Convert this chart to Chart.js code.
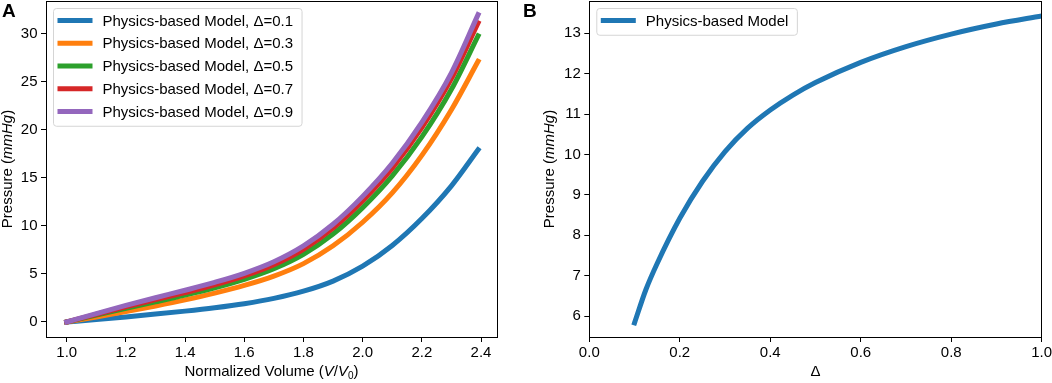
<!DOCTYPE html>
<html>
<head>
<meta charset="utf-8">
<script src="https://cdn.jsdelivr.net/npm/chart.js@4.4.1/dist/chart.umd.min.js"></script>
<style>
    html, body { margin: 0; padding: 0; background: #fff; }
    #wrap { position: relative; width: 1052px; height: 383px; overflow: hidden; }
    canvas { position: absolute; top: 0; }
    #chartA { left: 0; }
    #chartB { left: 520px; }
    .panel-tag { position: absolute; font: bold 19px "Liberation Sans", Arial, sans-serif; color: #000; line-height: 1; }
</style>
</head>
<body>
<div id="wrap">
    <canvas id="chartA" width="520" height="383"></canvas>
    <canvas id="chartB" width="532" height="383"></canvas>
    <div class="panel-tag" style="left:2px;top:1px">A</div>
    <div class="panel-tag" style="left:523px;top:1px">B</div>
</div>
<script>
// Panel A: pressure vs normalized volume, one curve per Δ
const volume   = [1.0, 1.1, 1.2, 1.3, 1.4, 1.5, 1.6, 1.7, 1.8, 1.9, 2.0, 2.1, 2.2, 2.3, 2.39];
const pressD01 = [0, 0.26, 0.53, 0.82, 1.13, 1.48, 1.9, 2.45, 3.2, 4.25, 5.8, 7.95, 10.75, 14.15, 17.9];
const pressD03 = [0, 0.52, 1.08, 1.67, 2.3, 3.0, 3.8, 4.77, 6.07, 7.92, 10.37, 13.42, 17.32, 22.07, 27.1];
const pressD05 = [0, 0.72, 1.42, 2.1, 2.8, 3.56, 4.44, 5.54, 7.04, 9.14, 11.89, 15.19, 19.24, 24.19, 29.75];
const pressD07 = [0, 0.8, 1.58, 2.32, 3.06, 3.86, 4.79, 5.96, 7.56, 9.76, 12.61, 16.0, 20.2, 25.3, 31.1];
const pressD09 = [0, 0.88, 1.72, 2.52, 3.3, 4.12, 5.06, 6.26, 7.91, 10.16, 13.06, 16.5, 20.75, 25.9, 31.95];
const seriesA  = ['Physics-based Model, Δ=0.1', 'Physics-based Model, Δ=0.3', 'Physics-based Model, Δ=0.5',
                  'Physics-based Model, Δ=0.7', 'Physics-based Model, Δ=0.9'];
const xTicksA  = [1.0, 1.2, 1.4, 1.6, 1.8, 2.0, 2.2, 2.4];
const yTicksA  = [0, 5, 10, 15, 20, 25, 30];

// Panel B: pressure vs Δ
const delta        = [0.1, 0.125, 0.15, 0.2, 0.25, 0.3, 0.35, 0.4, 0.45, 0.5, 0.6, 0.7, 0.8, 0.9, 1.0];
const pressAtDelta = [5.83, 6.65, 7.3, 8.42, 9.33, 10.07, 10.65, 11.1, 11.47, 11.78, 12.28, 12.67, 12.98, 13.23, 13.43];
const seriesB      = ['Physics-based Model'];
const xTicksB      = [0.0, 0.2, 0.4, 0.6, 0.8, 1.0];
const yTicksB      = [6, 7, 8, 9, 10, 11, 12, 13];

const COLORS = ['#1f77b4', '#ff7f0e', '#2ca02c', '#d62728', '#9467bd'];
const FONT = '"Liberation Sans", Arial, sans-serif';

Chart.defaults.font.family = FONT;
Chart.defaults.color = '#000';

const toPoints = (xs, ys) => xs.map((x, i) => ({ x, y: ys[i] }));

// box around the plot area, like matplotlib spines
const framePlugin = {
    id: 'frame',
    afterDraw(chart) {
        const { ctx, chartArea: a } = chart;
        ctx.save();
        ctx.strokeStyle = '#000';
        ctx.lineWidth = 1;
        ctx.strokeRect(Math.round(a.left) + 0.5, Math.round(a.top) + 0.5,
            Math.round(a.right - a.left), Math.round(a.bottom - a.top));
        ctx.restore();
    },
};

// legend box in the upper-left corner of the axes
const boxLegendPlugin = {
    id: 'boxLegend',
    afterDraw(chart) {
        const { ctx, chartArea: a } = chart;
        const sets = chart.data.datasets.slice().sort((p, q) => p.idx - q.idx);
        const rowH = 22.75;
        ctx.save();
        ctx.font = '15px ' + FONT;
        const textW = Math.max(...sets.map(d => ctx.measureText(d.label).width));
        const x0 = a.left + 7.5, y0 = a.top + 7.5;
        const w = 49 + textW + 9, h = sets.length * rowH + 4;
        ctx.beginPath();
        ctx.roundRect(x0, y0, w, h, 3);
        ctx.fillStyle = 'rgba(255,255,255,0.8)';
        ctx.fill();
        ctx.strokeStyle = '#d5d5d5';
        ctx.lineWidth = 1;
        ctx.stroke();
        sets.forEach((d, i) => {
            const cy = y0 + 12 + i * rowH;
            ctx.beginPath();
            ctx.moveTo(x0 + 4, cy);
            ctx.lineTo(x0 + 39, cy);
            ctx.strokeStyle = d.borderColor;
            ctx.lineWidth = 5;
            ctx.stroke();
            ctx.fillStyle = '#000';
            ctx.textBaseline = 'middle';
            ctx.fillText(d.label, x0 + 49, cy + 1);
        });
        ctx.restore();
    },
};

// axis titles with italic / subscript pieces
function drawRich(ctx, parts, x, y, rotate) {
    ctx.save();
    ctx.translate(x, y);
    if (rotate) ctx.rotate(-Math.PI / 2);
    ctx.fillStyle = '#000';
    ctx.textBaseline = 'middle';
    let total = 0;
    parts.forEach(p => { ctx.font = p.font; total += ctx.measureText(p.text).width; });
    let cx = -total / 2;
    parts.forEach(p => {
        ctx.font = p.font;
        ctx.fillText(p.text, cx, p.dy || 0);
        cx += ctx.measureText(p.text).width;
    });
    ctx.restore();
}

const N = '15px ' + FONT, I = 'italic 15px ' + FONT, S = '10px ' + FONT;

function titlesPlugin(xParts, xPos, yParts, yPos) {
    return {
        id: 'titles',
        afterDraw(chart) {
            drawRich(chart.ctx, xParts, xPos[0], xPos[1], false);
            drawRich(chart.ctx, yParts, yPos[0], yPos[1], true);
        },
    };
}

function axes(xMin, xMax, xTicks, yMin, yMax, yTicks, yW) {
    const grid = { display: true, drawOnChartArea: false, drawTicks: true, tickLength: 5, color: '#000' };
    return {
        x: {
            type: 'linear', min: xMin, max: xMax,
            grid, border: { display: false },
            afterBuildTicks: s => { s.ticks = xTicks.map(v => ({ value: v })); },
            afterFit: s => { s.height = 46; s.paddingLeft = 0; s.paddingRight = 0; },
            ticks: { font: { size: 15 }, padding: 2, maxRotation: 0, callback: v => v.toFixed(1) },
        },
        y: {
            type: 'linear', min: yMin, max: yMax,
            grid, border: { display: false },
            afterBuildTicks: s => { s.ticks = yTicks.map(v => ({ value: v })); },
            afterFit: s => { s.width = yW; s.paddingTop = 0; s.paddingBottom = 0; },
            ticks: { font: { size: 15 }, padding: 3.5, callback: v => String(v) },
        },
    };
}

const baseOpts = {
    responsive: false,
    animation: false,
    devicePixelRatio: 1,
    plugins: { legend: { display: false }, tooltip: { enabled: false } },
    elements: { point: { radius: 0 }, line: { borderWidth: 5, cubicInterpolationMode: 'monotone', borderCapStyle: 'square' } },
};

const curvesA = [pressD01, pressD03, pressD05, pressD07, pressD09];

new Chart(document.getElementById('chartA'), {
    type: 'line',
    data: {
        datasets: curvesA.map((ys, i) => ({
            label: seriesA[i],
            idx: i,
            order: curvesA.length - i,   // later curves on top
            data: toPoints(volume, ys),
            borderColor: COLORS[i],
            fill: false,
        })),
    },
    options: {
        ...baseOpts,
        layout: { padding: { top: 1, right: 23, left: 0, bottom: 0 } },
        scales: axes(0.93, 2.454, xTicksA, -1.56, 33.37, yTicksA, 46),
    },
    plugins: [framePlugin, boxLegendPlugin,
        titlesPlugin(
            [{ text: 'Normalized Volume (', font: N }, { text: 'V', font: I }, { text: '/', font: N },
             { text: 'V', font: I }, { text: '0', font: S, dy: 4 }, { text: ')', font: N }],
            [271.5, 372],
            [{ text: 'Pressure (', font: N }, { text: 'mmHg', font: I }, { text: ')', font: N }],
            [7.5, 169]),
    ],
});

new Chart(document.getElementById('chartB'), {
    type: 'line',
    data: {
        datasets: [{
            label: seriesB[0],
            idx: 0,
            data: toPoints(delta, pressAtDelta),
            borderColor: COLORS[0],
            fill: false,
        }],
    },
    options: {
        ...baseOpts,
        layout: { padding: { top: 1, right: 10.3, left: 0, bottom: 0 } },
        scales: axes(0, 1, xTicksB, 5.48, 13.8, yTicksB, 69.3),
    },
    plugins: [framePlugin, boxLegendPlugin,
        titlesPlugin(
            [{ text: 'Δ', font: N }],
            [295.5, 372],
            [{ text: 'Pressure (', font: N }, { text: 'mmHg', font: I }, { text: ')', font: N }],
            [30, 169]),
    ],
});
</script>
</body>
</html>
